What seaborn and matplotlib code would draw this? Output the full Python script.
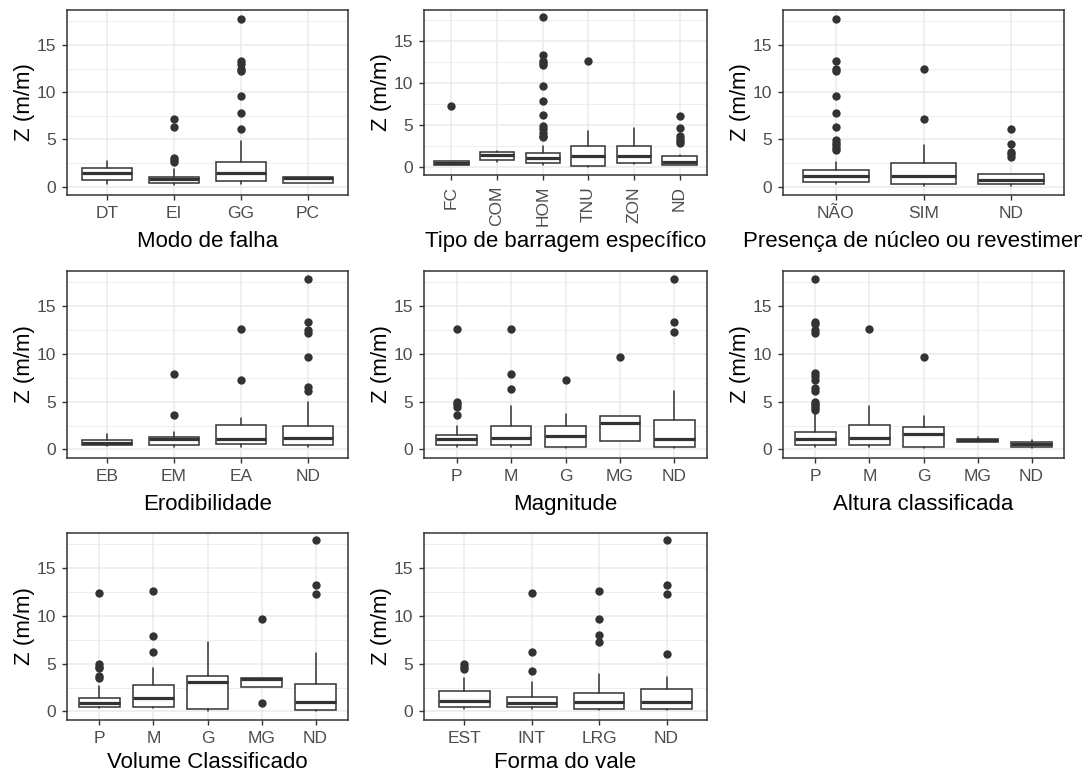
import matplotlib
matplotlib.use("Agg")
import matplotlib.pyplot as plt
from matplotlib.ticker import MultipleLocator
import seaborn as sns
import pandas as pd

# ---------------- data (box statistics) ----------------
modo_cats = ["DT", "EI", "GG", "PC"]
modo_wlo = [0.28, 0.20, 0.28, 0.35]
modo_q1 = [0.70, 0.42, 0.56, 0.42]
modo_med = [1.43, 0.80, 1.43, 0.87]
modo_q3 = [1.95, 1.05, 2.55, 0.98]
modo_whi = [2.72, 1.81, 4.81, 0.98]
modo_out = [[], [7.2, 6.3, 3.0, 2.8, 2.6],
            [17.75, 13.25, 12.94, 12.42, 12.2, 9.56, 7.78, 6.1], []]

tipo_cats = ["FC", "COM", "HOM", "TNU", "ZON", "ND"]
tipo_wlo = [0.28, 0.67, 0.28, 0.10, 0.36, 0.28]
tipo_q1 = [0.28, 0.83, 0.52, 0.16, 0.52, 0.28]
tipo_med = [0.48, 1.47, 1.11, 1.31, 1.31, 0.67]
tipo_q3 = [0.79, 1.87, 1.71, 2.58, 2.58, 1.39]
tipo_whi = [0.79, 2.00, 2.58, 4.29, 4.68, 1.45]
tipo_out = [[7.34], [],
            [17.9, 13.4, 12.7, 12.4, 12.2, 9.7, 7.86, 6.27, 4.88, 4.6, 4.1, 3.77, 3.57],
            [12.6], [], [6.15, 4.68, 3.69, 3.37, 3.1, 2.9]]

nucleo_cats = ["NÃO", "SIM", "ND"]
nucleo_wlo = [0.28, 0.07, 0.10]
nucleo_q1 = [0.52, 0.24, 0.24]
nucleo_med = [1.08, 1.15, 0.66]
nucleo_q3 = [1.78, 2.51, 1.33]
nucleo_whi = [2.60, 4.39, 1.33]
nucleo_out = [[17.7, 13.25, 12.45, 12.24, 9.56, 7.81, 6.31, 4.92, 4.64, 4.39, 4.12, 3.87],
              [12.45, 7.19], [6.14, 4.46, 3.66, 3.45, 3.1]]

erod_cats = ["EB", "EM", "EA", "ND"]
erod_wlo = [0.35, 0.25, 0.25, 0.25]
erod_q1 = [0.42, 0.46, 0.60, 0.46]
erod_med = [0.70, 1.09, 1.05, 1.23]
erod_q3 = [0.95, 1.30, 2.56, 2.46]
erod_whi = [1.58, 1.86, 3.27, 4.92]
erod_out = [[], [7.9, 3.65], [12.57, 7.3],
            [17.9, 13.4, 12.5, 12.2, 9.7, 6.5, 6.15]]

mag_cats = ["P", "M", "G", "MG", "ND"]
mag_wlo = [0.28, 0.25, 0.18, 0.91, 0.18]
mag_q1 = [0.46, 0.46, 0.28, 0.91, 0.28]
mag_med = [1.05, 1.19, 1.44, 2.81, 1.05]
mag_q3 = [1.51, 2.42, 2.42, 3.51, 3.06]
mag_whi = [2.49, 4.57, 3.69, 3.51, 6.15]
mag_out = [[12.57, 5.0, 4.8, 4.46, 3.65], [12.57, 7.9, 6.36], [7.3], [9.7],
           [17.9, 13.35, 12.26]]

alt_cats = ["P", "M", "G", "MG", "ND"]
alt_wlo = [0.25, 0.25, 0.18, 0.81, 0.18]
alt_q1 = [0.46, 0.46, 0.28, 0.81, 0.28]
alt_med = [1.05, 1.23, 1.65, 0.95, 0.53]
alt_q3 = [1.83, 2.60, 2.32, 1.12, 0.81]
alt_whi = [3.80, 4.57, 3.55, 1.26, 0.95]
alt_out = [[17.9, 13.4, 13.1, 12.5, 12.2, 7.97, 7.73, 7.3, 6.43, 6.15, 5.0, 4.8, 4.57, 4.32, 4.1],
           [12.57], [9.7], [], []]

vol_cats = ["P", "M", "G", "MG", "ND"]
vol_wlo = [0.35, 0.35, 0.07, 2.57, 0.07]
vol_q1 = [0.46, 0.46, 0.28, 2.57, 0.14]
vol_med = [0.88, 1.37, 3.10, 3.35, 1.02]
vol_q3 = [1.41, 2.75, 3.66, 3.49, 2.89]
vol_whi = [2.64, 4.58, 7.32, 3.49, 6.16]
vol_out = [[12.43, 4.93, 4.68, 4.5, 3.66, 3.45], [12.6, 7.92, 6.23], [], [9.68, 0.88],
           [17.92, 13.2, 12.29]]

vale_cats = ["EST", "INT", "LRG", "ND"]
vale_wlo = [0.25, 0.25, 0.14, 0.14]
vale_q1 = [0.42, 0.42, 0.28, 0.28]
vale_med = [1.13, 0.85, 1.02, 1.02]
vale_q3 = [2.11, 1.51, 1.94, 2.39]
vale_whi = [3.52, 3.06, 3.94, 3.63]
vale_out = [[4.93, 4.65, 4.47], [12.43, 6.23, 4.26], [12.57, 9.68, 7.96, 7.25],
            [17.92, 13.2, 12.29, 6.06]]

y_label = "Z (m/m)"
panels = [
    ("Modo de falha", modo_cats, modo_wlo, modo_q1, modo_med, modo_q3, modo_whi, modo_out),
    ("Tipo de barragem específico", tipo_cats, tipo_wlo, tipo_q1, tipo_med, tipo_q3, tipo_whi, tipo_out),
    ("Presença de núcleo ou revestimento", nucleo_cats, nucleo_wlo, nucleo_q1, nucleo_med, nucleo_q3, nucleo_whi, nucleo_out),
    ("Erodibilidade", erod_cats, erod_wlo, erod_q1, erod_med, erod_q3, erod_whi, erod_out),
    ("Magnitude", mag_cats, mag_wlo, mag_q1, mag_med, mag_q3, mag_whi, mag_out),
    ("Altura classificada", alt_cats, alt_wlo, alt_q1, alt_med, alt_q3, alt_whi, alt_out),
    ("Volume Classificado", vol_cats, vol_wlo, vol_q1, vol_med, vol_q3, vol_whi, vol_out),
    ("Forma do vale", vale_cats, vale_wlo, vale_q1, vale_med, vale_q3, vale_whi, vale_out),
]

# ---------------- style ----------------
sns.set_theme(style="whitegrid")
plt.rcParams["font.family"] = ["Liberation Sans", "DejaVu Sans"]

W, H = 1082, 773
fig = plt.figure(figsize=(W / 100, H / 100), dpi=100)
fig.patch.set_facecolor("white")

cols = [(67, 348), (424, 707), (783, 1064)]
rows = [(10, 195), (271, 458), (533, 720)]

dark = "#333333"
for i, (xlab, cats, wlo, q1, med, q3, whi, outs) in enumerate(panels):
    r, c = divmod(i, 3)
    x0, x1 = cols[c]
    y0, y1 = rows[r]
    if i == 1:
        y1 = 175
    ax = fig.add_axes([x0 / W, 1 - y1 / H, (x1 - x0) / W, (y1 - y0) / H])
    ax.set_facecolor("white")

    # outliers through seaborn's categorical axis
    df = pd.DataFrame({"cat": [cats[k] for k in range(len(cats)) for _ in outs[k]],
                       "val": [v for k in range(len(cats)) for v in outs[k]]})
    sns.stripplot(data=df, x="cat", y="val", order=cats, jitter=False, ax=ax,
                  color=dark, size=6, linewidth=0, zorder=3)

    stats = [dict(whislo=wlo[k], q1=q1[k], med=med[k], q3=q3[k], whishi=whi[k],
                  fliers=[]) for k in range(len(cats))]
    ax.bxp(stats, positions=list(range(len(cats))), widths=0.75, patch_artist=True,
           showcaps=False, showfliers=False,
           boxprops=dict(facecolor="white", edgecolor=dark, linewidth=1.1),
           whiskerprops=dict(color=dark, linewidth=1.1),
           medianprops=dict(color=dark, linewidth=2.3, solid_capstyle="butt"),
           manage_ticks=False, zorder=2)

    ax.set_xlim(-0.6, len(cats) - 0.4)
    ax.set_ylim(-0.9, 18.7)
    ax.yaxis.set_major_locator(MultipleLocator(5))
    ax.yaxis.set_minor_locator(MultipleLocator(2.5))
    ax.set_xticks(range(len(cats)))
    ax.set_xticklabels(cats, rotation=90 if i == 1 else 0)
    ax.grid(which="major", color="#EBEBEB", linewidth=1.1, zorder=0)
    ax.grid(which="minor", axis="y", color="#EBEBEB", linewidth=0.6, zorder=0)
    ax.set_axisbelow(True)
    for s in ax.spines.values():
        s.set_visible(True)
        s.set_color(dark)
        s.set_linewidth(1.1)
    ax.tick_params(axis="both", which="major", length=3.5, width=1.0, color=dark,
                   labelsize=12.5, labelcolor="#4D4D4D", pad=4.5, bottom=True, left=True)
    ax.tick_params(axis="both", which="minor", length=0)
    pad = 3 if i == 1 else (4.5 if r == 2 else 7)
    ax.set_xlabel(xlab, fontsize=16, color="black", labelpad=pad)
    ax.set_ylabel(y_label, fontsize=16, color="black", labelpad=1)

fig.savefig("out.png", dpi=100, facecolor="white")
